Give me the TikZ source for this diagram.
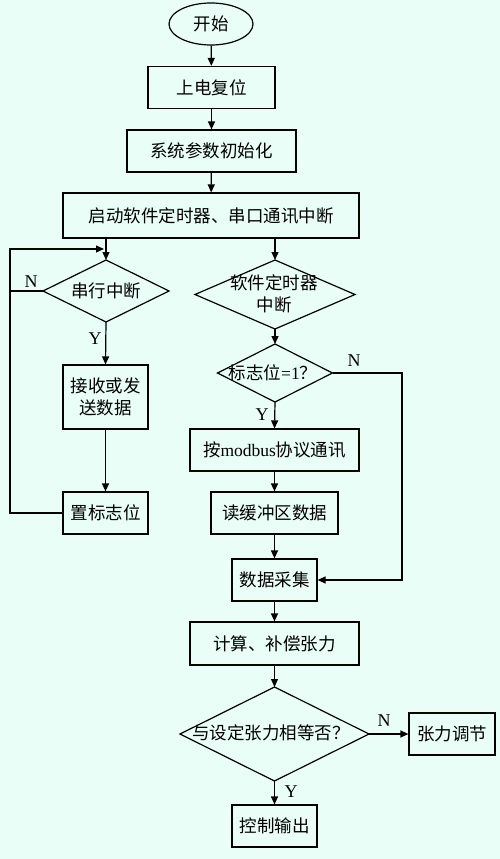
\documentclass[tikz,border=0pt]{standalone}
\usepackage{fontspec}
\setmainfont{Liberation Serif}
\newfontfamily\cjk{Noto Sans CJK SC}
\usetikzlibrary{shapes.geometric,arrows.meta}
\definecolor{bgc}{RGB}{232,254,246}
\tikzset{
  every node/.style={font=\fontsize{17.5}{21}\selectfont},
  box/.style={draw,line width=1.2pt,rectangle,minimum height=42pt,inner sep=0pt,font=\fontsize{17.5}{22}\selectfont\cjk},
  dia/.style={draw,line width=1.2pt,diamond,inner sep=0pt,outer sep=0pt},
  dtext/.style={font=\fontsize{17.5}{22}\selectfont\cjk,align=center,inner sep=0pt},
  conn/.style={line width=1.2pt,-{Triangle[length=8pt,width=7pt]}},
  plain/.style={line width=1.2pt},
  lab/.style={font=\fontsize{18}{20}\selectfont}
}
\begin{document}
\begin{tikzpicture}[x=1pt,y=-1pt]
\fill[bgc] (0,0) rectangle (500,859);
\useasboundingbox (0,0) rectangle (500,859);
\node[draw,line width=1.2pt,ellipse,minimum width=84pt,minimum height=42pt,inner sep=0pt,font=\fontsize{17.5}{22}\selectfont\cjk] (start) at (211,24) {开始};
\node[box,minimum width=127pt] (reset) at (211.5,87.5) {上电复位};
\node[box,minimum width=169pt] (init) at (211.5,151) {系统参数初始化};
\node[box,minimum width=296pt,minimum height=45pt] (launch) at (211,215.5) {启动软件定时器、串口通讯中断};
% left branch
\node[dia,minimum width=126pt,minimum height=62pt] (serial) at (106,291) {};
\node[dtext] (serialt) at (serial.center) {串行中断};
\node[box,minimum width=85pt,minimum height=64pt,align=center] (rx) at (105.5,397) {接收或发\\送数据};
\node[box,minimum width=85pt] (setflag) at (105.5,513) {置标志位};
% right branch
\node[dia,minimum width=160pt,minimum height=69pt] (timer) at (275,294.5) {};
\node[dtext] (timert) at (274,294) {软件定时器\\中断};
\node[dia,minimum width=115pt,minimum height=58pt] (flag) at (275,373) {};
\node[dtext,font=\fontsize{17.5}{22}\selectfont] (flagt) at (273,373) {{\cjk 标志位}=1{\cjk ？}};
\node[box,minimum width=169pt] (modbus) at (274.5,450) {按\rmfamily modbus\cjk 协议通讯};
\node[box,minimum width=127pt] (buf) at (274.5,513) {读缓冲区数据};
\node[box,minimum width=85pt] (acq) at (274.5,580) {数据采集};
\node[box,minimum width=169pt,minimum height=43pt] (calc) at (274.5,643.5) {计算、补偿张力};
\node[dia,minimum width=189pt,minimum height=94pt] (eq) at (274.5,734) {};
\node[dtext] (eqt) at (271,733) {与设定张力相等否？};
\node[box,minimum width=86pt] (adj) at (452,734) {张力调节};
\node[box,minimum width=85pt] (out) at (274.5,826) {控制输出};
% coordinates
\coordinate (lt) at (106,238);
\coordinate (rt) at (275,238);
\coordinate (loopL) at (10,249);
\coordinate (loopR) at (104,249);
\coordinate (nL) at (10,291);
\coordinate (nR) at (402,373);
\coordinate (nRb) at (402,580);
% connectors
\draw[conn] (start) -- (reset);
\draw[conn] (reset) -- (init);
\draw[conn] (init) -- (launch);
\draw[conn] (lt) -- (serial.north);
\draw[conn] (rt) -- (timer.north);
\draw[conn] (serial.south) -- (rx.north);
\draw[conn] (rx.south) -- (setflag.north);
\draw[plain] (serial.west) -- (nL);
\draw[conn] (setflag.west) -| (loopL) -- (loopR);
\draw[conn] (timer.south) -- (flag.north);
\draw[conn] (flag.south) -- (modbus.north);
\draw[conn] (flag.east) -- (nR) -- (nRb) -- (acq.east);
\draw[conn] (modbus.south) -- (buf.north);
\draw[conn] (buf.south) -- (acq.north);
\draw[conn] (acq.south) -- (calc.north);
\draw[conn] (calc.south) -- (eq.north);
\draw[conn] (eq.east) -- (adj.west);
\draw[conn] (eq.south) -- (out.north);
% labels
\node[lab] (lN1) at (31,282) {N};
\node[lab] (lY1) at (95,339) {Y};
\node[lab] (lN2) at (354,361) {N};
\node[lab] (lY2) at (262,415) {Y};
\node[lab] (lN3) at (384,721) {N};
\node[lab] (lY3) at (291,792) {Y};
\end{tikzpicture}
\end{document}
